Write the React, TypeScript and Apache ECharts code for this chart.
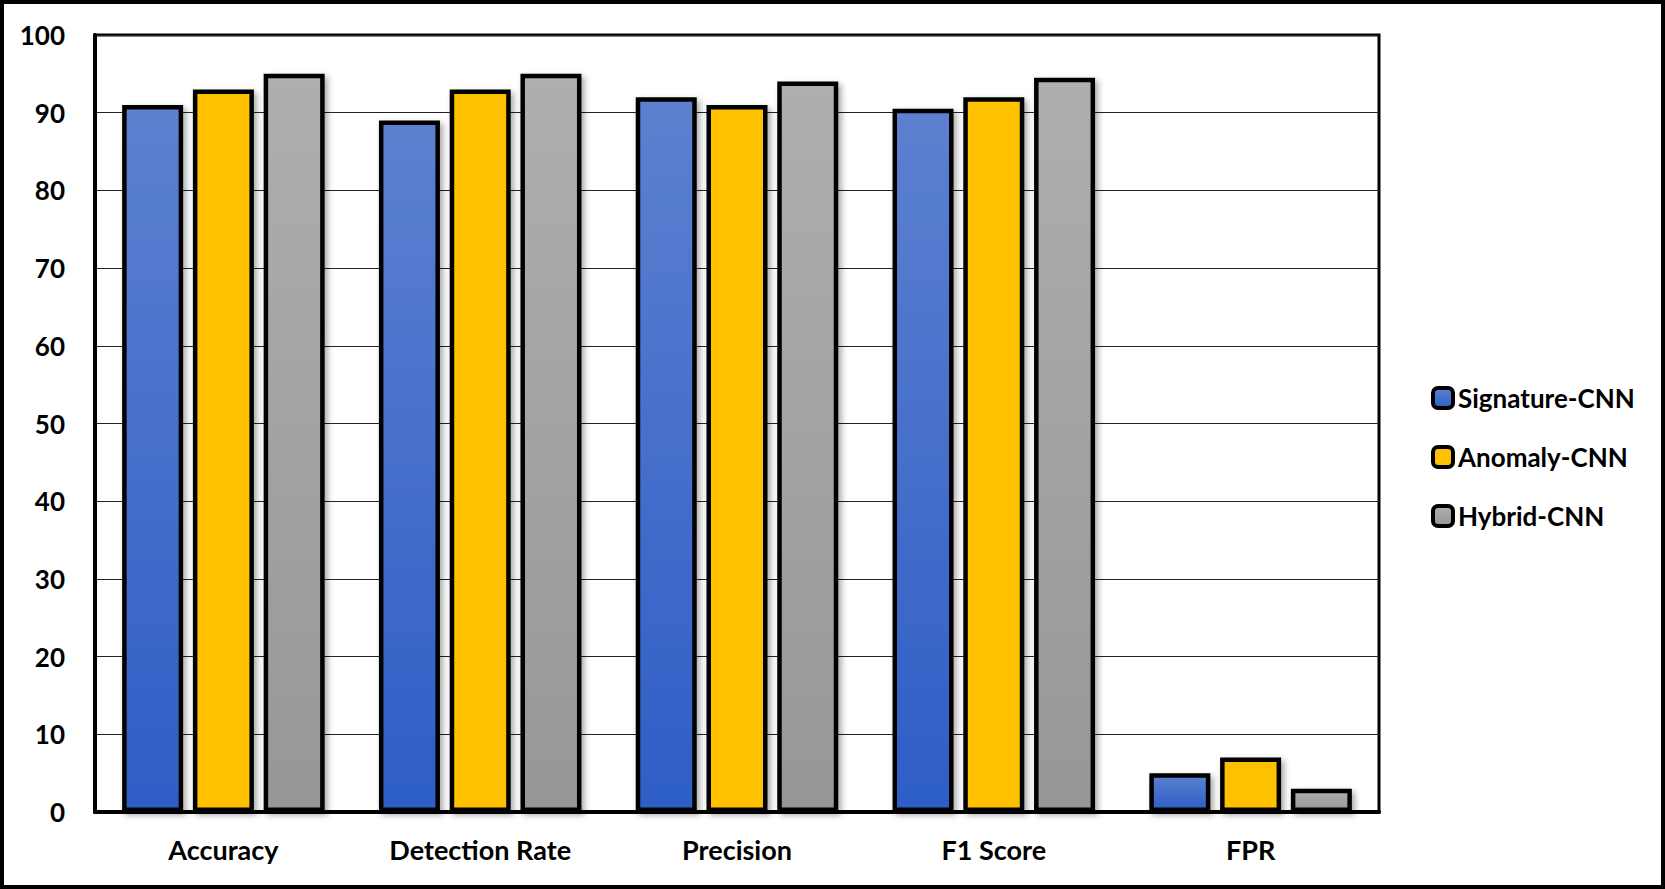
import React, { useEffect, useRef } from "react";
import * as echarts from "echarts";

const categories = ["Accuracy", "Detection Rate", "Precision", "F1 Score", "FPR"];
const signatureCNN = [91, 89, 92, 90.5, 5];
const anomalyCNN = [93, 93, 91, 92, 7];
const hybridCNN = [95, 95, 94, 94.5, 3];
const seriesNames = ["Signature-CNN", "Anomaly-CNN", "Hybrid-CNN"];

const FONT = "Lato";

export default function App() {
  const ref = useRef<HTMLDivElement>(null);
  useEffect(() => {
    document.body.style.margin = "0";
    const chart = echarts.init(ref.current!, undefined, { renderer: "svg" });
    const grad = (top: string, bottom: string) =>
      new echarts.graphic.LinearGradient(0, 0, 0, 1, [
        { offset: 0, color: top },
        { offset: 1, color: bottom },
      ]);
    const common = {
      type: "bar" as const,
      barWidth: 61,
      barGap: "16%",
    };
    const itemBase = {
      borderColor: "#000",
      borderWidth: 4.5,
      shadowBlur: 6,
      shadowOffsetX: 3,
      shadowOffsetY: 3,
      shadowColor: "rgba(0,0,0,0.35)",
    };
    chart.setOption({
      animation: false,
      backgroundColor: "#fff",
      grid: {
        left: 95,
        right: 286,
        top: 35,
        bottom: 77,
        show: true,
        borderColor: "#000",
        borderWidth: 3,
        containLabel: false,
      },
      legend: {
        orient: "vertical",
        left: 1426,
        top: 380,
        itemWidth: 20,
        itemHeight: 20,
        itemGap: 33,
        data: seriesNames,
        textStyle: { fontFamily: FONT, fontWeight: "bold", fontSize: 26, lineHeight: 20, color: "#000" },
        itemStyle: { borderColor: "#000", borderWidth: 4, shadowBlur: 0, shadowOffsetX: 0, shadowOffsetY: 0 },
      },
      xAxis: {
        type: "category",
        data: categories,
        axisLine: { lineStyle: { color: "#000", width: 4 } },
        axisTick: { show: false },
        axisLabel: { fontFamily: FONT, fontWeight: "bold", fontSize: 27, color: "#000", margin: 24 },
      },
      yAxis: {
        type: "value",
        min: 0,
        max: 100,
        interval: 10,
        axisLine: { show: true, lineStyle: { color: "#000", width: 4 } },
        axisTick: { show: false },
        splitLine: { lineStyle: { color: "#222", width: 1 } },
        axisLabel: { fontFamily: FONT, fontWeight: "bold", fontSize: 26, color: "#000", margin: 30 },
      },
      series: [
        {
          ...common,
          name: seriesNames[0],
          data: signatureCNN,
          itemStyle: { ...itemBase, color: grad("#5D80D0", "#2E5EC6") },
        },
        {
          ...common,
          name: seriesNames[1],
          data: anomalyCNN,
          itemStyle: { ...itemBase, color: "#FFC000" },
        },
        {
          ...common,
          name: seriesNames[2],
          data: hybridCNN,
          itemStyle: { ...itemBase, color: grad("#AEAEAE", "#979797") },
        },
      ],
      graphic: [
        {
          type: "rect",
          shape: { x: 2, y: 2, width: 1661, height: 885 },
          style: { fill: "none", stroke: "#000", lineWidth: 4 },
          z: 100,
        },
      ],
    });
    return () => chart.dispose();
  }, []);
  return <div ref={ref} style={{ width: 1665, height: 889 }} />;
}
